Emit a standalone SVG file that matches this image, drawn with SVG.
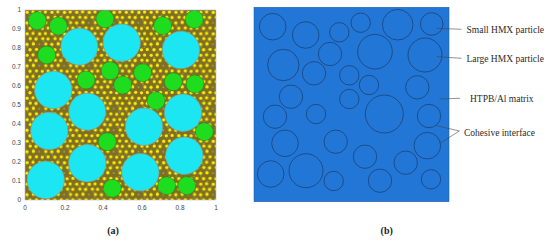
<svg xmlns="http://www.w3.org/2000/svg" width="550" height="242" viewBox="0 0 550 242">
<style>
.tick{font-family:"Liberation Sans",Arial,sans-serif;font-size:6.5px;fill:#444}
.lbl{font-family:"Liberation Serif","Times New Roman",serif;font-size:9.5px;fill:#2a2a2a}
.cap{font-family:"Liberation Serif","Times New Roman",serif;font-size:10px;font-weight:bold;fill:#222}
.big{fill:#1ce6f2;stroke:#8a9a8a;stroke-width:0.7}
.sm{fill:#1edc1e;stroke:#2f6f2f;stroke-width:0.5}
.p{fill:#2277d6;stroke:#1b2f55;stroke-width:0.6}
.lead{stroke:#444;stroke-width:0.6;fill:none}
.y{fill:#ffee00}
.g{fill:#a9a28a}
</style>
<defs>
<pattern id="dots" x="25" y="10" width="24.8" height="21.48" patternUnits="userSpaceOnUse">
<rect width="24.8" height="21.48" fill="#7f6f22"/>
<circle class="g" cx="5" cy="4.5" r="0.7"/>
<circle class="g" cx="12.5" cy="5" r="0.6"/>
<circle class="g" cx="19" cy="10" r="0.7"/>
<circle class="g" cx="8" cy="10" r="0.6"/>
<circle class="g" cx="14.3" cy="12.8" r="0.9"/>
<circle class="g" cx="2.5" cy="15.5" r="0.6"/>
<circle class="g" cx="20" cy="16" r="0.6"/>
<circle class="g" cx="9" cy="20.5" r="0.6"/>
<circle class="y" cx="2.2" cy="2.3" r="1.65"/>
<circle class="y" cx="8.0" cy="1.9" r="1.6"/>
<circle class="y" cx="14.7" cy="2.4" r="1.7"/>
<circle class="y" cx="20.4" cy="2.0" r="1.6"/>
<circle class="y" cx="5.3" cy="7.1" r="1.6"/>
<circle class="y" cx="11.0" cy="7.6" r="1.7"/>
<circle class="y" cx="17.8" cy="7.2" r="1.6"/>
<circle class="y" cx="23.0" cy="7.5" r="1.6"/>
<circle class="y" cx="2.0" cy="12.9" r="1.6"/>
<circle class="y" cx="8.4" cy="12.5" r="1.7"/>
<circle class="y" cx="20.8" cy="12.6" r="1.6"/>
<circle class="y" cx="5.0" cy="18.3" r="1.7"/>
<circle class="y" cx="11.5" cy="17.9" r="1.6"/>
<circle class="y" cx="17.3" cy="18.4" r="1.65"/>
<circle class="y" cx="23.1" cy="18.0" r="1.6"/>
</pattern>
<clipPath id="plot"><rect x="25" y="10" width="191" height="190"/></clipPath>
</defs>
<rect width="550" height="242" fill="#fff"/>
<g id="panel-a">
<g clip-path="url(#plot)">
<rect x="25" y="10" width="191" height="190" fill="url(#dots)"/>
<g id="small-particles">
<circle class="sm" cx="37.3" cy="20.7" r="9"/>
<circle class="sm" cx="58.3" cy="26" r="9"/>
<circle class="sm" cx="105" cy="19" r="9"/>
<circle class="sm" cx="162.7" cy="25.7" r="9"/>
<circle class="sm" cx="194.3" cy="19.3" r="9"/>
<circle class="sm" cx="46.7" cy="55" r="9"/>
<circle class="sm" cx="110" cy="70.7" r="9"/>
<circle class="sm" cx="142.7" cy="72.7" r="9"/>
<circle class="sm" cx="86" cy="80" r="9"/>
<circle class="sm" cx="122.7" cy="85" r="9"/>
<circle class="sm" cx="173.3" cy="81.7" r="9"/>
<circle class="sm" cx="195" cy="84" r="9"/>
<circle class="sm" cx="156" cy="100.7" r="9"/>
<circle class="sm" cx="204.3" cy="131.7" r="9"/>
<circle class="sm" cx="107.3" cy="141.7" r="9"/>
<circle class="sm" cx="112.3" cy="188.3" r="9"/>
<circle class="sm" cx="166.7" cy="185.7" r="9"/>
<circle class="sm" cx="186.7" cy="185.7" r="9"/>
</g>
<g id="large-particles">
<circle class="big" cx="79.3" cy="46.7" r="18.5"/>
<circle class="big" cx="121.7" cy="42.7" r="18.7"/>
<circle class="big" cx="181" cy="50" r="18.7"/>
<circle class="big" cx="53.3" cy="90" r="18.7"/>
<circle class="big" cx="87.3" cy="111.7" r="18.5"/>
<circle class="big" cx="49.3" cy="131" r="18.7"/>
<circle class="big" cx="144" cy="126.7" r="18.7"/>
<circle class="big" cx="183" cy="112.7" r="18.7"/>
<circle class="big" cx="87.3" cy="163.3" r="18.7"/>
<circle class="big" cx="184.3" cy="155.7" r="18.7"/>
<circle class="big" cx="140.3" cy="172.3" r="18.7"/>
<circle class="big" cx="45.7" cy="180" r="18.7"/>
</g>
</g>
<rect x="25" y="10" width="191" height="190" fill="none" stroke="#bbb" stroke-width="0.6"/>
<g class="tick" text-anchor="end">
<text x="21" y="12.3">1</text>
<text x="21" y="31.3">0.9</text>
<text x="21" y="50.3">0.8</text>
<text x="21" y="69.3">0.7</text>
<text x="21" y="88.3">0.6</text>
<text x="21" y="107.3">0.5</text>
<text x="21" y="126.3">0.4</text>
<text x="21" y="145.3">0.3</text>
<text x="21" y="164.3">0.2</text>
<text x="21" y="183.3">0.1</text>
<text x="21" y="202.3">0</text>
</g>
<g class="tick" text-anchor="middle">
<text x="25" y="209.5">0</text>
<text x="65" y="209.5">0.2</text>
<text x="103" y="209.5">0.4</text>
<text x="142" y="209.5">0.6</text>
<text x="180" y="209.5">0.8</text>
<text x="216" y="209.5">1</text>
</g>
<text class="cap" x="113" y="233.5" text-anchor="middle">(a)</text>
</g>
<g id="panel-b">
<rect x="254" y="7.3" width="195" height="194.4" fill="#2277d6" stroke="#1b4f90" stroke-width="0.5"/>
<g id="particles-b">
<circle class="p" cx="272.7" cy="26.7" r="13.3"/>
<circle class="p" cx="305.7" cy="35" r="13.3"/>
<circle class="p" cx="339.3" cy="32.3" r="9.7"/>
<circle class="p" cx="360.7" cy="22.7" r="9.7"/>
<circle class="p" cx="397.7" cy="24.7" r="15.3"/>
<circle class="p" cx="431.7" cy="24" r="11.3"/>
<circle class="p" cx="283.3" cy="65" r="15.7"/>
<circle class="p" cx="330" cy="54" r="11.7"/>
<circle class="p" cx="375" cy="51.7" r="17.3"/>
<circle class="p" cx="425" cy="55" r="17"/>
<circle class="p" cx="314" cy="73.3" r="11.7"/>
<circle class="p" cx="349.3" cy="75.3" r="9.7"/>
<circle class="p" cx="369" cy="85" r="9.7"/>
<circle class="p" cx="417.3" cy="87.3" r="11.7"/>
<circle class="p" cx="291" cy="96.7" r="11.7"/>
<circle class="p" cx="349.3" cy="99" r="9.7"/>
<circle class="p" cx="384.3" cy="114" r="19"/>
<circle class="p" cx="275" cy="116.7" r="11.7"/>
<circle class="p" cx="316" cy="114" r="9.7"/>
<circle class="p" cx="429" cy="116" r="11.7"/>
<circle class="p" cx="285" cy="143.3" r="13.3"/>
<circle class="p" cx="335.7" cy="141.7" r="11.7"/>
<circle class="p" cx="427.3" cy="145.7" r="13.3"/>
<circle class="p" cx="365" cy="156.7" r="11.7"/>
<circle class="p" cx="405.7" cy="162.7" r="11.7"/>
<circle class="p" cx="270.7" cy="174" r="13.3"/>
<circle class="p" cx="306" cy="170.7" r="17"/>
<circle class="p" cx="333.7" cy="181" r="9.7"/>
<circle class="p" cx="380" cy="180.7" r="11.7"/>
<circle class="p" cx="431" cy="179.3" r="9.7"/>
</g>
<g id="connectors">
<path class="lead" d="M436.5 28.3 L461.5 29.3"/>
<path class="lead" d="M436.5 56.7 L461.5 58.3"/>
<path class="lead" d="M439.3 99 L460 98.3"/>
<path class="lead" d="M436.7 125.7 L459.3 131 L440 143.3"/>
</g>
<g id="labels">
<text class="lbl" x="466.5" y="32.5">Small HMX particle</text>
<text class="lbl" x="466.5" y="61.8">Large HMX particle</text>
<text class="lbl" x="470" y="102.2">HTPB/Al matrix</text>
<text class="lbl" x="464" y="135.5">Cohesive interface</text>
</g>
<text class="cap" x="386.7" y="233.5" text-anchor="middle">(b)</text>
</g>
</svg>
